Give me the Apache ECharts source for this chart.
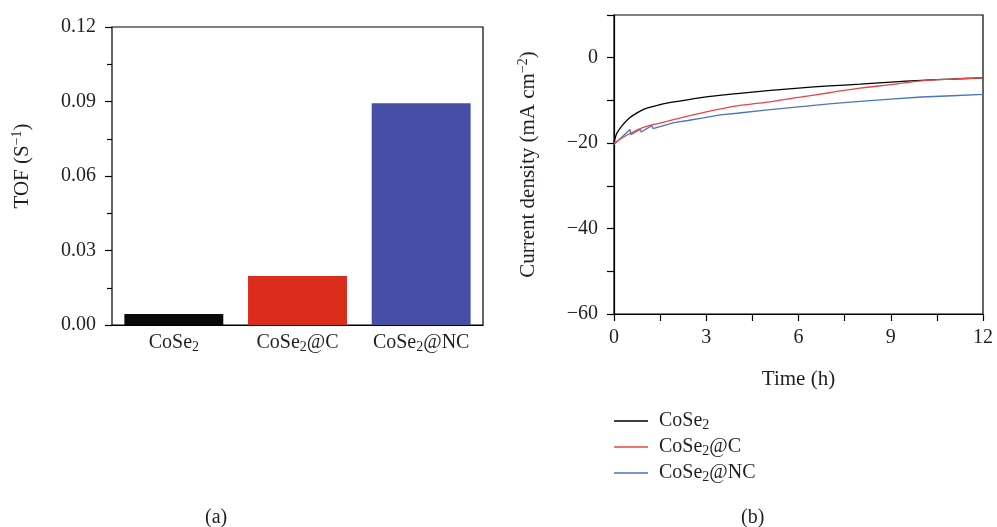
<!DOCTYPE html>
<html>
<head>
<meta charset="utf-8">
<script src="https://cdn.jsdelivr.net/npm/echarts@6/dist/echarts.min.js"></script>
<style>html,body{margin:0;padding:0;background:#fff}#c{width:997px;height:527px}</style>
</head>
<body>
<div id="c"></div>
<script>
// ---- data ----
const categories = ['CoSe2', 'CoSe2@C', 'CoSe2@NC'];
const tofValues = [0.0044, 0.0197, 0.0893];
const tofTicks = [0, 0.03, 0.06, 0.09, 0.12];

const coseTime = [0, 0.05, 0.1, 0.25, 0.5, 0.75, 1.0, 1.5, 2, 3, 4, 5, 6, 7, 8, 9, 10, 11, 12];
const coseJ    = [-20, -18.5, -17.6, -16.0, -14.1, -12.9, -12.0, -11.0, -10.3, -9.15, -8.4, -7.7, -7.1, -6.6, -6.2, -5.7, -5.3, -5.0, -4.7];

const cosecTime = [0, 0.5, 1, 1.5, 2, 3, 4, 5, 6, 7, 8, 9, 10, 11, 12];
const cosecJ    = [-20, -17.8, -16.2, -15.3, -14.4, -12.7, -11.3, -10.4, -9.3, -8.2, -7.1, -6.3, -5.4, -5.0, -4.7];

const cosencTime = [0, 0.52, 0.55, 0.85, 0.88, 1.23, 1.27, 1.95, 2.0, 2.4, 2.9, 3.45, 3.5, 4, 5, 6, 7, 8, 9, 10, 11, 12];
const cosencJ    = [-20.3, -16.8, -18.0, -16.8, -17.4, -15.9, -16.6, -15.2, -15.4, -14.7, -14.1, -13.4, -13.6, -13.0, -12.2, -11.5, -10.8, -10.2, -9.7, -9.2, -8.9, -8.6];

const barColors = ['#0a0a0a', '#dc2c1c', '#464ea6'];
const lineColors = ['#000000', '#ec4444', '#4a74c4'];

// ---- helpers ----
const serif = '"Liberation Serif", "Times New Roman", serif';
const txt = '#231f20';
function mkRich(fs) {
  return {
    n: {fontSize: fs, fontFamily: serif, color: txt, lineHeight: fs + 3},
    s: {fontSize: Math.round(fs * 0.68), fontFamily: serif, color: txt, lineHeight: 13, verticalAlign: 'bottom'},
    p: {fontSize: Math.round(fs * 0.68), fontFamily: serif, color: txt, lineHeight: 13, verticalAlign: 'top'}
  };
}
const rich = mkRich(20);
const richName = mkRich(21);
function chem(name) {
  const rest = name.slice(5);
  return '{n|CoSe}{s|2}' + (rest ? '{n|' + rest + '}' : '');
}
const pairs = (xs, ys) => xs.map((x, i) => [x, ys[i]]);

const chart = echarts.init(document.getElementById('c'));
const axisLine = {onZero: false, lineStyle: {color: '#000', width: 1.2}};
const tickLine = {color: '#000', width: 1.2};

chart.setOption({
  animation: false,
  backgroundColor: '#fff',
  grid: [
    {left: 112, top: 27, width: 371, height: 298, show: true, borderColor: '#000', borderWidth: 1.2, backgroundColor: 'transparent'},
    {left: 614, top: 15, width: 369, height: 299, show: true, borderColor: '#000', borderWidth: 1.2, backgroundColor: 'transparent'}
  ],
  xAxis: [
    {
      gridIndex: 0, type: 'category', data: categories,
      axisLine: axisLine, axisTick: {show: false},
      axisLabel: {interval: 0, margin: 6, formatter: v => chem(v), rich: rich}
    },
    {
      gridIndex: 1, type: 'value', min: 0, max: 12, interval: 1.5,
      name: 'Time (h)', nameLocation: 'middle', nameGap: 55,
      nameTextStyle: {fontSize: 21, fontFamily: serif, color: txt},
      axisLine: axisLine, axisTick: {show: true, length: 7, lineStyle: tickLine},
      splitLine: {show: false},
      axisLabel: {margin: 14, fontSize: 20, fontFamily: serif, color: txt,
        formatter: v => (Math.abs(v % 3) < 1e-9 ? String(v) : '')}
    }
  ],
  yAxis: [
    {
      gridIndex: 0, type: 'value', min: 0, max: 0.12, interval: 0.03,
      name: '{n|TOF (S}{p|−1}{n|)}', nameLocation: 'middle', nameGap: 78,
      nameTextStyle: {rich: richName, padding: [0, 0, 0, 20]},
      axisLine: axisLine,
      axisTick: {show: true, length: 7, lineStyle: tickLine},
      minorTick: {show: true, splitNumber: 2, length: 5, lineStyle: tickLine},
      splitLine: {show: false},
      axisLabel: {margin: 16, fontSize: 20, fontFamily: serif, color: txt, formatter: v => v.toFixed(2)}
    },
    {
      gridIndex: 1, type: 'value', min: -60, max: 10, interval: 10,
      name: '{n|Current density (mA cm}{p|−2}{n|)}', nameLocation: 'middle', nameGap: 74,
      nameTextStyle: {rich: richName},
      axisLine: axisLine,
      axisTick: {show: true, length: 7, lineStyle: tickLine},
      splitLine: {show: false},
      axisLabel: {margin: 16, fontSize: 20, fontFamily: serif, color: txt,
        formatter: v => (v <= 0 && v % 20 === 0 ? (v < 0 ? '−' + Math.abs(v) : String(v)) : '')}
    }
  ],
  legend: {
    left: 614, top: 411, padding: 0, orient: 'vertical', icon: 'rect', itemWidth: 34, itemHeight: 1.5, itemGap: 4.5,
    data: ['CoSe2', 'CoSe2@C', 'CoSe2@NC'],
    formatter: n => chem(n),
    textStyle: {rich: rich, padding: [0, 0, 0, 6]}
  },
  graphic: [
    {type: 'text', left: 205, top: 508, style: {text: '(a)', font: '20px ' + serif, fill: txt}},
    {type: 'text', left: 741, top: 508, style: {text: '(b)', font: '20px ' + serif, fill: txt}}
  ],
  series: [
    {
      type: 'bar', xAxisIndex: 0, yAxisIndex: 0, barWidth: '80%',
      data: tofValues.map((v, i) => ({value: v, itemStyle: {color: barColors[i]}}))
    },
    {name: 'CoSe2', type: 'line', xAxisIndex: 1, yAxisIndex: 1, symbol: 'none', smooth: 0.3,
      lineStyle: {color: lineColors[0], width: 1.3}, itemStyle: {color: lineColors[0]}, data: pairs(coseTime, coseJ), z: 3},
    {name: 'CoSe2@NC', type: 'line', xAxisIndex: 1, yAxisIndex: 1, symbol: 'none',
      lineStyle: {color: lineColors[2], width: 1.3}, itemStyle: {color: lineColors[2]}, data: pairs(cosencTime, cosencJ), z: 4},
    {name: 'CoSe2@C', type: 'line', xAxisIndex: 1, yAxisIndex: 1, symbol: 'none', smooth: 0.3,
      lineStyle: {color: lineColors[1], width: 1.3}, itemStyle: {color: lineColors[1]}, data: pairs(cosecTime, cosecJ), z: 5}
  ]
});
</script>
</body>
</html>
